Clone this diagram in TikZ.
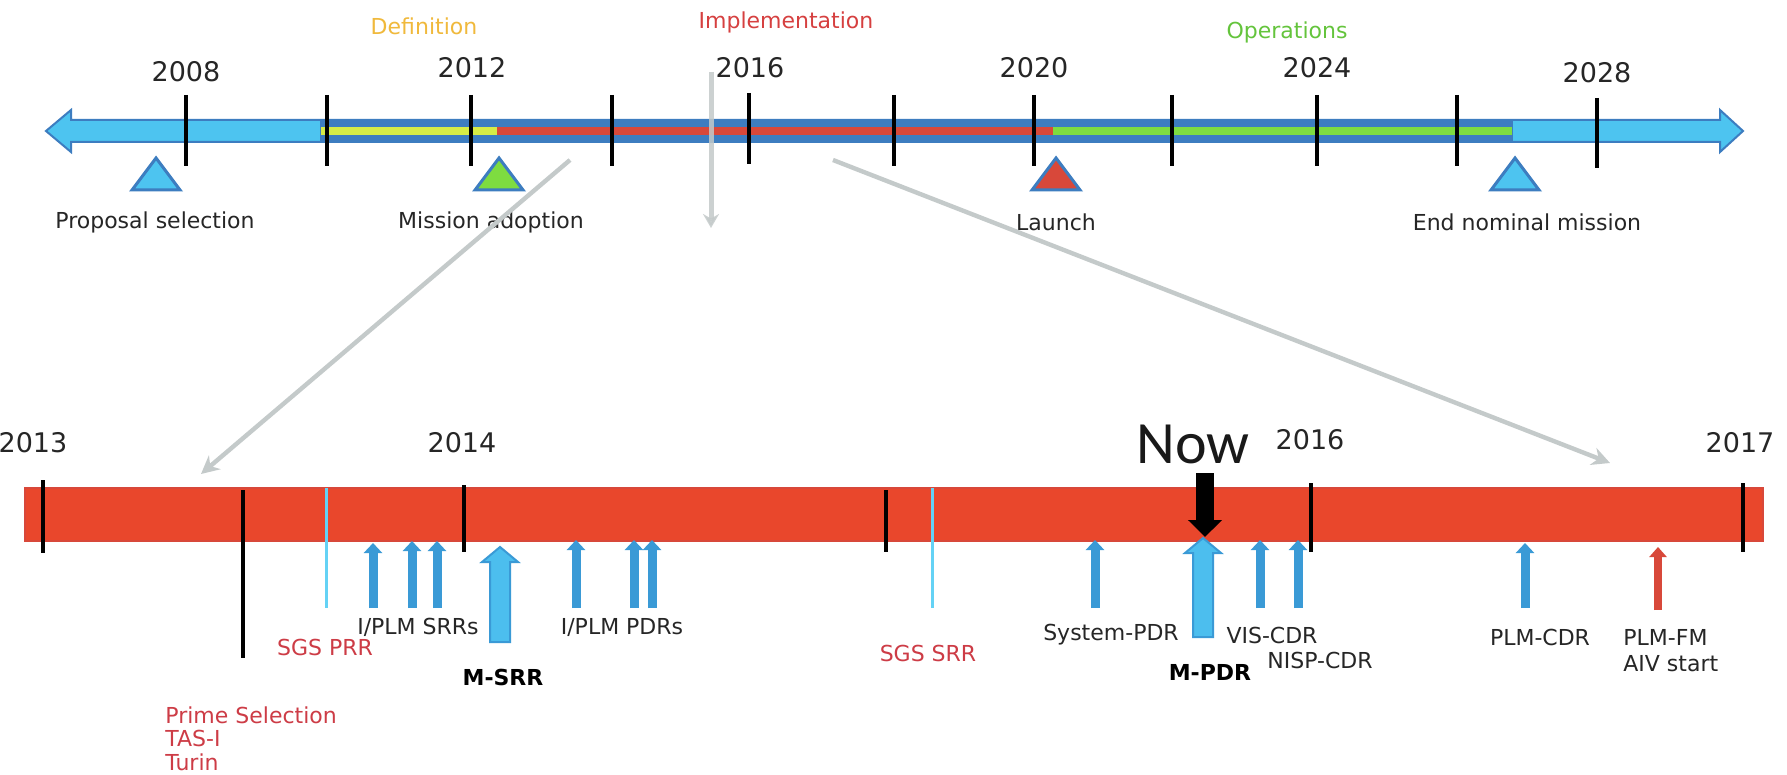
\documentclass[tikz,border=0pt]{standalone}
\usepackage{fontspec}
\setmainfont{DejaVu Sans}
\newfontfamily\nowfont{Carlito}
\usetikzlibrary{arrows.meta}
\definecolor{skyblue}{RGB}{77,196,240}
\definecolor{shaftblue}{RGB}{61,125,192}
\definecolor{defyellow}{RGB}{214,236,70}
\definecolor{implred}{RGB}{216,72,58}
\definecolor{opsgreen}{RGB}{126,220,64}
\definecolor{barred}{RGB}{233,71,44}
\definecolor{revblue}{RGB}{58,154,214}
\definecolor{bigblue}{RGB}{76,190,238}
\definecolor{sgscyan}{RGB}{100,210,245}
\definecolor{labelred}{RGB}{205,60,70}
\definecolor{zoomgray}{RGB}{196,202,202}
\definecolor{deftext}{RGB}{240,185,60}
\definecolor{impltext}{RGB}{214,64,64}
\definecolor{opstext}{RGB}{100,196,60}
\tikzset{
  year/.style={font=\fontsize{13.5}{16}\selectfont, text=black!85, inner sep=0pt},
  phase/.style={font=\fontsize{11}{13}\selectfont, inner sep=0pt},
  event/.style={font=\fontsize{11}{13}\selectfont, text=black!85, inner sep=0pt},
  redevent/.style={event, text=labelred},
  keyevent/.style={event, font=\fontsize{11}{13}\selectfont\bfseries, text=black},
  tick/.style={line width=2pt, black},
  milestone/.style={draw=shaftblue, line width=1.5pt, line join=miter},
  review/.style={revblue, line width=4.5pt, -{Triangle[width=9pt,length=5pt]}},
  keyreview/.style={fill=bigblue, draw=revblue, line width=1pt},
  sgsline/.style={sgscyan, line width=1.5pt},
  zoomline/.style={zoomgray, line width=2.2pt, -{Stealth[length=9pt,width=9pt]}}
}

\begin{document}
\begin{tikzpicture}[x=0.5pt, y=-0.5pt]
  \useasboundingbox [fill=white] (0,0) rectangle (1787,775);
  \clip (0,0) rectangle (1787,775);

  % overall mission timeline
  \draw [fill=skyblue, draw=shaftblue, line width=1pt] (46,131) -- (71,110) -- (71,120) -- (1720,120) -- (1720,110)
    -- (1743,131) -- (1720,152) -- (1720,142) -- (71,142) -- (71,152) -- cycle;
  \fill [shaftblue] (320,120) rectangle (1513,142);
  \fill [defyellow] (321,127) rectangle (497,135);
  \fill [implred] (497,127) rectangle (1053,135);
  \fill [opsgreen] (1053,127) rectangle (1512,135);

  \draw [tick] (186,95) -- (186,166);
  \draw [tick] (327,95) -- (327,166);
  \draw [tick] (471,95) -- (471,166);
  \draw [tick] (612,95) -- (612,166);
  \draw [tick] (749,93) -- (749,164);
  \draw [tick] (894,95) -- (894,166);
  \draw [tick] (1034,95) -- (1034,166);
  \draw [tick] (1172,95) -- (1172,166);
  \draw [tick] (1317,95) -- (1317,166);
  \draw [tick] (1457,95) -- (1457,166);
  \draw [tick] (1597,98) -- (1597,168);

  \node (y2008) [year] at (186,72) {2008};
  \node (y2012) [year] at (472,68) {2012};
  \node (y2016) [year] at (750,68) {2016};
  \node (y2020) [year] at (1034,68) {2020};
  \node (y2024) [year] at (1317,68) {2024};
  \node (y2028) [year] at (1597,73) {2028};

  \node (definition) [phase, text=deftext] at (424,26) {Definition};
  \node (implementation) [phase, text=impltext] at (786,22) {Implementation};
  \node (operations) [phase, text=opstext] at (1287,32) {Operations};

  \draw [milestone, fill=skyblue] (156,158) -- (180,190) -- (132,190) -- cycle;
  \draw [milestone, fill=opsgreen] (499,158) -- (523,190) -- (475,190) -- cycle;
  \draw [milestone, fill=implred] (1056,158) -- (1080,190) -- (1032,190) -- cycle;
  \draw [milestone, fill=skyblue] (1515,158) -- (1539,190) -- (1491,190) -- cycle;

  \node (proposal) [event] at (155,222) {Proposal selection};
  \node (adoption) [event] at (491,222) {Mission adoption};
  \node (launch) [event] at (1056,222) {Launch};
  \node (endmission) [event] at (1527,222) {End nominal mission};

  % zoom onto the implementation phase
  \coordinate (zoomfrom) at (570,160);
  \coordinate (zoomto) at (833,160);
  \coordinate (nowtop) at (711,72);
  \coordinate (nowdown) at (711,228);
  \coordinate (detailleft) at (201,474);
  \coordinate (detailright) at (1610,463);
  \draw [zoomline] (zoomfrom) -- (detailleft);
  \draw [zoomline] (zoomto) -- (detailright);
  \draw [zoomline, opacity=0.85, line width=2.5pt, -{Stealth[length=7pt,width=8pt]}] (nowtop) -- (nowdown);

  % detailed implementation timeline
  \draw [fill=barred, draw=implred, line width=0.6pt] (25,488) rectangle (1763,541);

  \draw [tick] (43,480) -- (43,553);
  \draw [tick] (243,490) -- (243,658);
  \draw [tick] (464,485) -- (464,552);
  \draw [tick] (886,490) -- (886,552);
  \draw [tick] (1311,483) -- (1311,552);
  \draw [tick] (1743,483) -- (1743,552);

  \node (y2013) [year] at (33,443) {2013};
  \node (y2014) [year] at (462,443) {2014};
  \node (y2016b) [year] at (1310,440) {2016};
  \node (y2017) [year] at (1740,443) {2017};

  \draw [sgsline] (326,488) -- (326,608);
  \draw [sgsline] (932,488) -- (932,608);

  \draw [review] (373,608) -- (373,543);
  \draw [review] (412,608) -- (412,541);
  \draw [review] (437,608) -- (437,541);
  \draw [review] (576,608) -- (576,540);
  \draw [review] (634,608) -- (634,540);
  \draw [review] (652,608) -- (652,540);
  \draw [review] (1095,608) -- (1095,540);
  \draw [review] (1260,608) -- (1260,540);
  \draw [review] (1298,608) -- (1298,540);
  \draw [review] (1525,608) -- (1525,543);
  \draw [review, implred, line width=4pt, -{Triangle[width=8.5pt,length=5pt]}] (1658,610) -- (1658,547);

  \draw [keyreview] (500,547) -- ++(18,15) -- ++(-8,0) -- ++(0,80) -- ++(-20,0) -- ++(0,-80) -- ++(-8,0) -- cycle;
  \draw [keyreview] (1203,538) -- ++(18,15) -- ++(-8,0) -- ++(0,84) -- ++(-20,0) -- ++(0,-84) -- ++(-8,0) -- cycle;

  \node (now) [inner sep=0pt, font=\nowfont\fontsize{30}{32}\selectfont, text=black!90] at (1193,444) {Now};
  \coordinate (nowmark) at (1205,537);
  \draw [black, line width=9pt, -{Triangle[width=16.5pt,length=8.5pt]}] (1205,473) -- (nowmark);

  \node (sgsprr) [redevent] at (325,647) {SGS PRR};
  \node (iplmsrr) [event] at (418,627) {I/PLM SRRs};
  \node (msrr) [keyevent] at (503,677) {M-SRR};
  \node (iplmpdr) [event] at (622,627) {I/PLM PDRs};
  \node (prime) [redevent, anchor=north west, align=left, font=\fontsize{11}{11.8}\selectfont] at (165,706) {Prime Selection\\TAS-I\\Turin};
  \node (sgssrr) [redevent] at (928,653) {SGS SRR};
  \node (syspdr) [event] at (1111,635) {System-PDR};
  \node (mpdr) [keyevent] at (1210,672) {M-PDR};
  \node (viscdr) [event] at (1272,635) {VIS-CDR};
  \node (nispcdr) [event] at (1320,660) {NISP-CDR};
  \node (plmcdr) [event] at (1540,637) {PLM-CDR};
  \node (plmfm) [event, anchor=north west, align=left, font=\fontsize{11}{13}\selectfont] at (1623,629) {PLM-FM\\AIV start};
\end{tikzpicture}
\end{document}
